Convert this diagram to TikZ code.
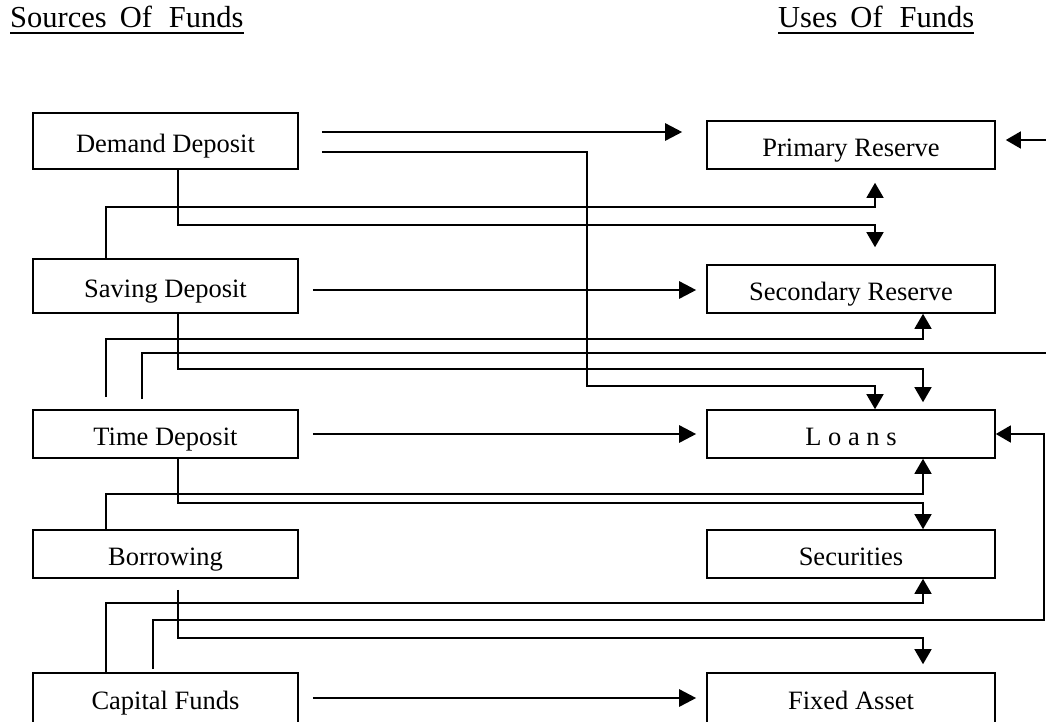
\documentclass[tikz,border=0pt]{standalone}
\usepackage{fontspec}
\setmainfont{Liberation Serif}
\usetikzlibrary{arrows.meta,calc}
\begin{document}
\begin{tikzpicture}[x=1pt,y=-1pt,
  fundbox/.style={draw,line width=1.6pt,rectangle,inner sep=0pt,text height=24pt,text depth=2pt,font=\fontsize{26.5}{30}\selectfont},
  lbox/.style={fundbox,minimum width=265pt},
  rbox/.style={fundbox,minimum width=288pt},
  conn/.style={line width=1.5pt,-{Triangle[length=15pt,width=17pt]}},
  flow/.style={line width=2.6pt,-{Triangle[length=17pt,width=17pt]}},
  headtxt/.style={font=\fontsize{30.5}{34}\selectfont,inner sep=0pt,anchor=base west}]
\useasboundingbox (0,0) rectangle (1046,721);
\clip (0,0) rectangle (1046,721);

% headings
\node[headtxt] (h1) at (10,27) {Sources\hspace{13pt}Of\hspace{17pt}Funds};
\draw[line width=2pt] ($(h1.base west)+(0,6)$) -- ($(h1.base east)+(0,6)$);
\node[headtxt] (h2) at (778,27) {Uses\hspace{13pt}Of\hspace{17pt}Funds};
\draw[line width=2pt] ($(h2.base west)+(0,6)$) -- ($(h2.base east)+(0,6)$);

% sources
\node[lbox,minimum height=56pt] (dd) at (165.5,141) {Demand Deposit};
\node[lbox,minimum height=54pt] (sd) at (165.5,286) {Saving Deposit};
\node[lbox,minimum height=48pt] (td) at (165.5,434) {Time Deposit};
\node[lbox,minimum height=48pt] (bo) at (165.5,554) {Borrowing};
\node[lbox,minimum height=50pt] (cf) at (165.5,698) {Capital Funds};

% uses
\node[rbox,minimum height=48pt] (pr) at (851,145) {Primary Reserve};
\node[rbox,minimum height=48pt] (sr) at (851,289) {Secondary Reserve};
\node[rbox,minimum height=48pt] (lo) at (851,434) {L o a n s};
\node[rbox,minimum height=48pt] (se) at (851,554) {Securities};
\node[rbox,minimum height=50pt] (fa) at (851,698) {Fixed Asset};

% direct flows
\draw[flow] ($(dd.east)+(23,-9)$) -- ($(pr.west)+(-24,-13)$);
\draw[flow] ($(sd.east)+(14,4)$) -- ($(sr.west)+(-10,1)$);
\draw[flow] ($(td.east)+(14,0)$) -- ($(lo.west)+(-10,0)$);
\draw[flow] ($(cf.east)+(14,0)$) -- ($(fa.west)+(-10,0)$);

% routed connectors
\draw[conn] ($(dd.east)+(23,11)$) -| ($(lo.north)+(-264,-23)$) -| ($(lo.north)+(24,0)$);
\draw[conn] ($(dd.south)+(12.5,0)$) |- ($(sr.north)+(24,-39)$) -- ($(sr.north)+(24,-17)$);
\draw[conn] ($(sd.north)+(-59.5,0)$) |- ($(pr.south)+(24,37)$) -- ($(pr.south)+(24,13)$);
\draw[conn] ($(sd.south)+(12.5,0)$) |- ($(lo.north)+(72,-40)$) -- ($(lo.north)+(72,-7)$);
\draw[conn] ($(td.north)+(-59.5,-12)$) |- ($(sr.south)+(72,25)$) -- ($(sr.south)+(72,0)$);
\draw[conn] ($(td.north)+(-23.5,-10)$) |- ($(pr.east)+(65,208)$) |- ($(pr.east)+(10,-5)$);
\draw[conn] ($(td.south)+(12.5,0)$) |- ($(se.north)+(72,-26)$) -- ($(se.north)+(72,0)$);
\draw[conn] ($(bo.north)+(-59.5,0)$) |- ($(lo.south)+(72,35)$) -- ($(lo.south)+(72,0)$);
\draw[conn] ($(bo.south)+(12.5,11)$) |- ($(fa.north)+(72,-34)$) -- ($(fa.north)+(72,-8)$);
\draw[conn] ($(cf.north)+(-59.5,0)$) |- ($(se.south)+(72,24)$) -- ($(se.south)+(72,0)$);
\draw[conn] ($(cf.north)+(-12.5,-3)$) |- ($(lo.east)+(48,186)$) |- (lo.east);
\end{tikzpicture}
\end{document}
